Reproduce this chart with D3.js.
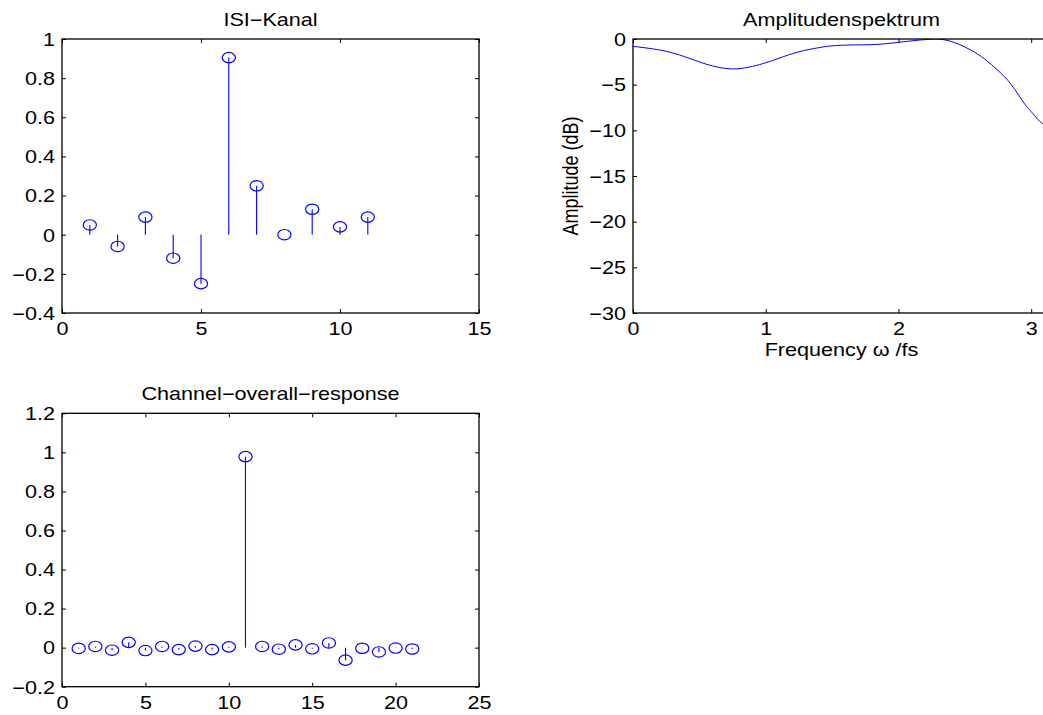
<!DOCTYPE html>
<html lang="en">
<head>
<meta charset="UTF-8">
<title>ISI-Kanal</title>
<script src="https://d3js.org/d3.v7.min.js"></script>
<style>
    body { margin: 0; background: white; }
    svg { display: block; font-family: "Liberation Sans", Arial, Helvetica, sans-serif; }
</style>
</head>
<body>
<svg id="vis"></svg>
<script>
    // ISI channel taps
    const isiN = [1, 2, 3, 4, 5, 6, 7, 8, 9, 10, 11];
    const isiVal = [0.05, -0.06, 0.09, -0.12, -0.25, 0.905, 0.25, 0.0, 0.13, 0.04, 0.09];

    // channel + equalizer overall response
    const ovN = [1, 2, 3, 4, 5, 6, 7, 8, 9, 10, 11, 12, 13, 14, 15, 16, 17, 18, 19, 20, 21];
    const ovVal = [-0.004, 0.006, -0.013, 0.027, -0.015, 0.006, -0.01, 0.008, -0.01, 0.004, 0.978,
        0.006, -0.008, 0.014, -0.006, 0.024, -0.064, -0.003, -0.022, -0.002, -0.007];

    // amplitude spectrum
    const freq = [0, 0.2, 0.35, 0.5, 0.6, 0.75, 0.9, 1.0, 1.1, 1.25, 1.4, 1.5, 1.65, 1.8, 1.95, 2.1,
        2.25, 2.35, 2.45, 2.55, 2.65, 2.75, 2.85, 2.95, 3.0, 3.05, 3.1, Math.PI];
    const ampDb = [-0.8, -1.2, -1.75, -2.5, -2.95, -3.28, -3.0, -2.6, -2.1, -1.4, -0.95, -0.75, -0.65, -0.62, -0.45, -0.2,
        -0.02, -0.1, -0.55, -1.25, -2.2, -3.45, -5.0, -7.1, -7.95, -8.8, -9.4, -9.6];

    // ticks
    const isiXTicks = [0, 5, 10, 15];
    const isiYTicks = [-0.4, -0.2, 0, 0.2, 0.4, 0.6, 0.8, 1];
    const ampXTicks = [0, 1, 2, 3];
    const ampYTicks = [-30, -25, -20, -15, -10, -5, 0];
    const ovXTicks = [0, 5, 10, 15, 20, 25];
    const ovYTicks = [-0.2, 0, 0.2, 0.4, 0.6, 0.8, 1, 1.2];

    const W = 1043, H = 715;
    const SX = 1.2;       // the figure is stretched horizontally
    const FS = 18;
    const blue = "#0000ff";
    const fmt = d3.format("~g");

    const svg = d3.select("#vis").attr("width", W).attr("height", H);

    function panel(box, xDom, yDom, xTicks, yTicks, title) {
        const x = d3.scaleLinear().domain(xDom).range([box.x0, box.x1]);
        const y = d3.scaleLinear().domain(yDom).range([box.y1, box.y0]);
        const g = svg.append("g");

        const clipId = "clip" + Math.round(box.x0) + Math.round(box.y0);
        svg.append("clipPath").attr("id", clipId).append("rect")
            .attr("x", box.x0).attr("y", box.y0)
            .attr("width", box.x1 - box.x0).attr("height", box.y1 - box.y0);
        const plot = g.append("g").attr("clip-path", `url(#${clipId})`);

        // inner ticks on all four sides
        const bottom = g.append("g").attr("transform", `translate(0,${box.y1})`)
            .call(d3.axisBottom(x).tickValues(xTicks).tickSizeInner(-4).tickSizeOuter(0).tickPadding(9).tickFormat(fmt));
        const left = g.append("g").attr("transform", `translate(${box.x0},0)`)
            .call(d3.axisLeft(y).tickValues(yTicks).tickSizeInner(-4).tickSizeOuter(0).tickPadding(8).tickFormat(fmt));
        const top = g.append("g").attr("transform", `translate(0,${box.y0})`)
            .call(d3.axisTop(x).tickValues(xTicks).tickSizeInner(-4).tickSizeOuter(0).tickFormat(""));
        const right = g.append("g").attr("transform", `translate(${box.x1},0)`)
            .call(d3.axisRight(y).tickValues(yTicks).tickSizeInner(-4).tickSizeOuter(0).tickFormat(""));
        [bottom, left, top, right].forEach(a => {
            a.select(".domain").remove();
            a.selectAll("line").attr("stroke", "#000").attr("stroke-width", 1);
        });
        bottom.selectAll("text").attr("font-size", FS).attr("font-family", null).attr("fill", "#000")
            .attr("dy", null).attr("y", 22).attr("transform", `scale(${SX},1)`);
        left.selectAll("text").attr("font-size", FS).attr("font-family", null).attr("fill", "#000")
            .attr("x", -7 / SX).attr("dy", "0.35em").attr("transform", `scale(${SX},1)`);

        g.append("rect")
            .attr("x", box.x0).attr("y", box.y0)
            .attr("width", box.x1 - box.x0).attr("height", box.y1 - box.y0)
            .attr("fill", "none").attr("stroke", "#000").attr("stroke-width", 1.3);

        g.append("text")
            .attr("transform", `translate(${(box.x0 + box.x1) / 2},${box.y0 - 13}) scale(${SX},1)`)
            .attr("text-anchor", "middle").attr("font-size", FS).text(title);

        return { x, y, g, plot };
    }

    function stems(p, xs, ys) {
        const data = xs.map((d, i) => [d, ys[i]]);
        p.plot.selectAll(null).data(data).join("line")
            .attr("x1", d => p.x(d[0])).attr("x2", d => p.x(d[0]))
            .attr("y1", p.y(0)).attr("y2", d => p.y(d[1]))
            .attr("stroke", blue).attr("stroke-width", 1.1);
        p.plot.selectAll(null).data(data).join("ellipse")
            .attr("cx", d => p.x(d[0])).attr("cy", d => p.y(d[1]))
            .attr("rx", 6.6).attr("ry", 5.2)
            .attr("fill", "none").attr("stroke", blue).attr("stroke-width", 1.2);
    }

    // ISI-Kanal
    const p1 = panel({ x0: 62, x1: 479, y0: 39, y1: 313 }, [0, 15], [-0.4, 1], isiXTicks, isiYTicks, "ISI\u2212Kanal");
    stems(p1, isiN, isiVal);

    // Amplitudenspektrum
    const p2 = panel({ x0: 633, x1: 1050, y0: 39, y1: 313 }, [0, Math.PI], [-30, 0], ampXTicks, ampYTicks, "Amplitudenspektrum");
    p2.plot.append("path")
        .datum(freq.map((f, i) => [f, ampDb[i]]))
        .attr("d", d3.line().x(d => p2.x(d[0])).y(d => p2.y(d[1])).curve(d3.curveNatural))
        .attr("fill", "none").attr("stroke", blue).attr("stroke-width", 1);
    p2.g.append("text")
        .attr("transform", `translate(841.5,356) scale(${SX},1)`)
        .attr("text-anchor", "middle").attr("font-size", FS).text("Frequency \u03c9 /fs");
    p2.g.append("text")
        .attr("transform", `translate(578,176) scale(${SX},1) rotate(-90)`)
        .attr("text-anchor", "middle").attr("font-size", FS).text("Amplitude (dB)");

    // Channel-overall-response
    const p3 = panel({ x0: 62, x1: 479, y0: 413.3, y1: 686.7 }, [0, 25], [-0.2, 1.2], ovXTicks, ovYTicks, "Channel\u2212overall\u2212response");
    stems(p3, ovN, ovVal);
</script>
</body>
</html>
